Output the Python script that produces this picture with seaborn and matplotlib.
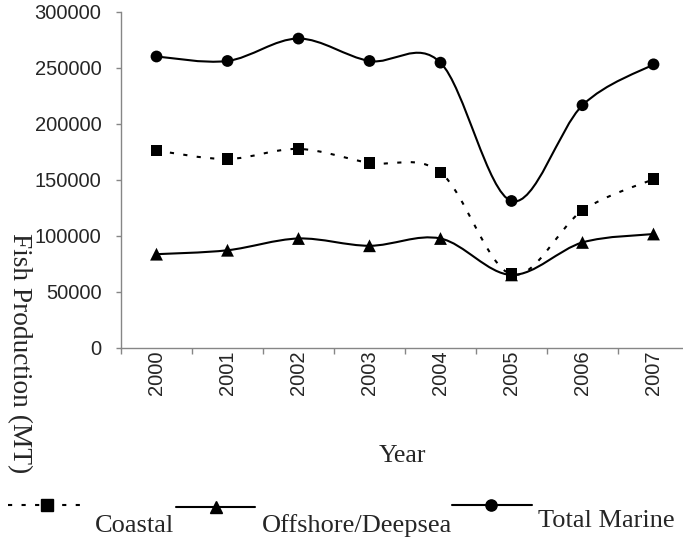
import numpy as np
import pandas as pd
import matplotlib
matplotlib.use("Agg")
import matplotlib.pyplot as plt
import seaborn as sns
from matplotlib.path import Path
from matplotlib.patches import PathPatch
from matplotlib.lines import Line2D

# ---------------------------------------------------------
# Data
# ---------------------------------------------------------
years = ["2000", "2001", "2002", "2003", "2004", "2005", "2006", "2007"]
coastal = [176000, 168500, 177500, 165000, 156500, 65500, 122500, 150500]
offshore = [83500, 87000, 97500, 91000, 97500, 65000, 94000, 101500]
total_marine = [260000, 256000, 276000, 256000, 254500, 131000, 216500, 253000]
series_names = ["Offshore/Deepsea", "Total Marine", "Coastal"]

GRAY = "#868686"
SANS = ["Liberation Sans", "DejaVu Sans"]
SERIF = ["Liberation Serif", "DejaVu Serif"]

sns.set_style("white")
plt.rcParams["font.family"] = SANS

W, H = 683, 538
fig = plt.figure(figsize=(W / 100, H / 100), dpi=100)
ax = fig.add_axes([121 / W, 1 - 347.7 / H, 568 / W, 336 / H])

pos = np.arange(len(years))
values = {"Coastal": coastal, "Offshore/Deepsea": offshore, "Total Marine": total_marine}
df = pd.DataFrame([
    {"pos": p, "value": v, "series": name}
    for name in series_names for p, v in zip(pos, values[name])
])


def smooth_path(xs, ys):
    # Excel-style smoothed line: cubic Bezier segments through every point
    xs = np.asarray(xs, dtype=float)
    ys = np.asarray(ys, dtype=float)
    n = len(xs)
    verts = [(xs[0], ys[0])]
    codes = [Path.MOVETO]
    for i in range(n - 1):
        i0, i3 = max(i - 1, 0), min(i + 2, n - 1)
        c1 = (xs[i] + (xs[i + 1] - xs[i0]) / 6, ys[i] + (ys[i + 1] - ys[i0]) / 6)
        c2 = (xs[i + 1] - (xs[i3] - xs[i]) / 6, ys[i + 1] - (ys[i3] - ys[i]) / 6)
        verts += [c1, c2, (xs[i + 1], ys[i + 1])]
        codes += [Path.CURVE4] * 3
    return Path(verts, codes)


line_styles = {"Coastal": (0, (2, 4.5)), "Offshore/Deepsea": "-", "Total Marine": "-"}
for name in series_names:
    patch = PathPatch(smooth_path(pos, values[name]), fill=False, edgecolor="black",
                      linewidth=1.5, linestyle=line_styles[name], zorder=2)
    ax.add_patch(patch)

markers = {"Coastal": "s", "Offshore/Deepsea": "^", "Total Marine": "o"}
sizes = {"Coastal": 72, "Offshore/Deepsea": 85, "Total Marine": 72}
sns.scatterplot(data=df, x="pos", y="value", style="series", markers=markers,
                size="series", sizes=sizes, color="black", edgecolor="black",
                linewidth=0, legend=False, ax=ax, zorder=3)

# ---------------------------------------------------------
# Axes styling
# ---------------------------------------------------------
ax.set_xlim(-0.5, len(years) - 0.5)
ax.set_ylim(0, 300000)
ax.set_xlabel("")
ax.set_ylabel("")
for side in ["top", "right"]:
    ax.spines[side].set_visible(False)
for side in ["left", "bottom"]:
    ax.spines[side].set_color(GRAY)
    ax.spines[side].set_linewidth(1)

yticks = list(range(0, 300001, 50000))
ax.set_yticks(yticks)
ax.set_yticklabels([str(t) for t in yticks], fontsize=14.5)
ax.tick_params(axis="y", length=3.6, width=1, color=GRAY, pad=10.5, direction="out", left=True)

ax.set_xticks(pos)
ax.set_xticklabels(years, rotation=90, fontsize=14.5)
ax.tick_params(axis="x", which="major", length=0, pad=2)
ax.set_xticks(np.arange(-0.5, len(years)), minor=True)
ax.tick_params(axis="x", which="minor", length=4.3, width=1, color=GRAY, direction="out", bottom=True)

fig.text(402 / W, 1 - 462 / H, "Year", family=SERIF, fontsize=18.5, ha="center", va="baseline")
fig.text(19.5 / W, 1 - 353 / H, "Fish Production (MT)", family=SERIF, fontsize=19.7,
         rotation=270, ha="center", va="center")

# ---------------------------------------------------------
# Legend (handles above-left of the text, as in the original)
# ---------------------------------------------------------
def px(x, y):
    return x / W, 1 - y / H


legend_items = [
    ("Coastal", (8, 83, 505), 47, (95, 532)),
    ("Offshore/Deepsea", (176, 255, 507), 216, (262, 532)),
    ("Total Marine", (452, 532, 505), 491, (538, 527)),
]
for name, (x1, x2, y), mx, (tx, ty) in legend_items:
    (fx1, fy), (fx2, _) = px(x1, y), px(x2, y)
    fig.add_artist(Line2D([fx1, fx2], [fy, fy], transform=fig.transFigure, color="black",
                          linewidth=1.5, linestyle=line_styles[name]))
    fig.add_artist(Line2D([px(mx, y)[0]], [fy], transform=fig.transFigure, color="black",
                          marker=markers[name], markersize=np.sqrt(sizes[name]) * 0.95,
                          linestyle="none"))
    fig.text(*px(tx, ty), name, family=SERIF, fontsize=19, ha="left", va="baseline")

fig.savefig("out.png", dpi=100)
